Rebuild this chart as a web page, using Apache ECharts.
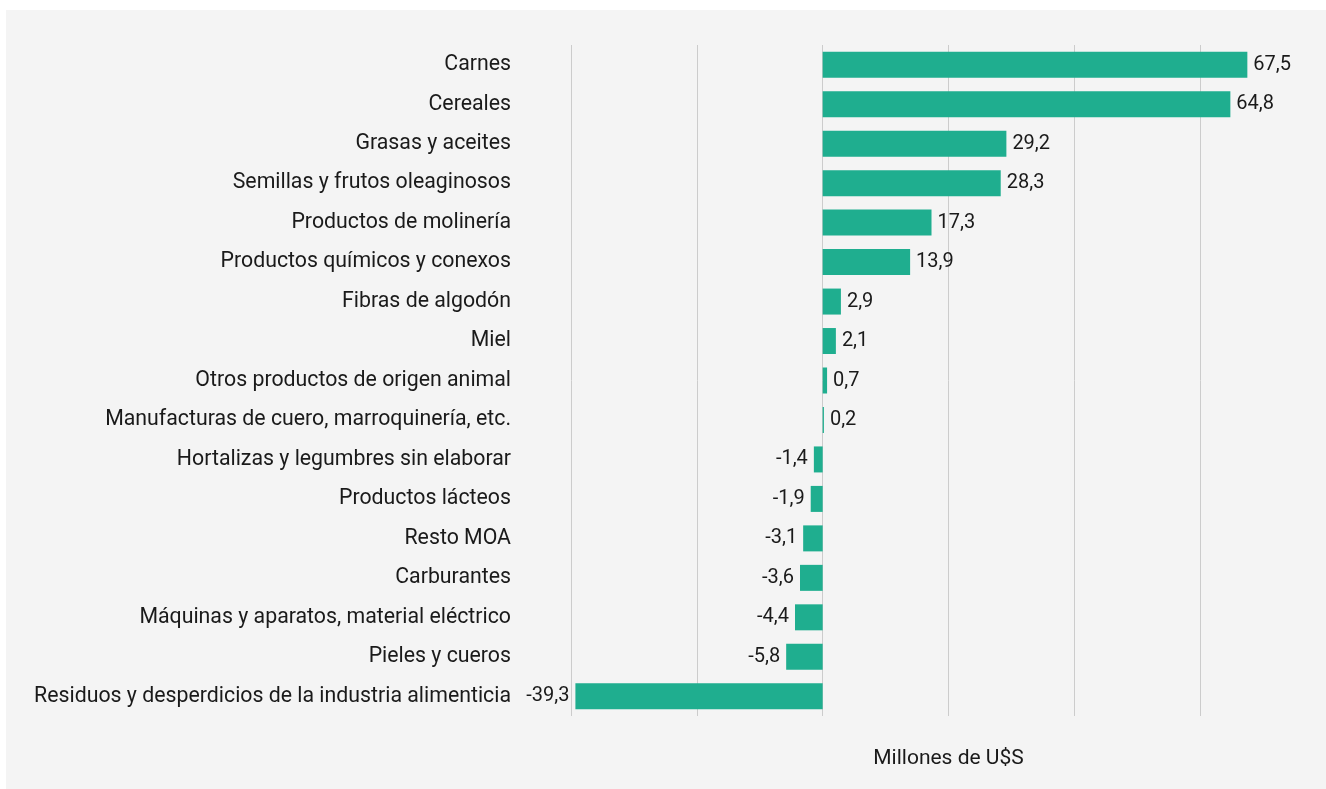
<!DOCTYPE html>
<html><head><meta charset="utf-8">
<script src="https://cdn.jsdelivr.net/npm/echarts@6/dist/echarts.min.js"></script>
<style>html,body{margin:0;padding:0;background:#fff;}#c{width:1326px;height:789px;}</style>
</head><body><div id="c"></div>
<script>
const categories = ["Carnes","Cereales","Grasas y aceites","Semillas y frutos oleaginosos","Productos de molinería","Productos químicos y conexos","Fibras de algodón","Miel","Otros productos de origen animal","Manufacturas de cuero, marroquinería, etc.","Hortalizas y legumbres sin elaborar","Productos lácteos","Resto MOA","Carburantes","Máquinas y aparatos, material eléctrico","Pieles y cueros","Residuos y desperdicios de la industria alimenticia"];
const values = [67.5,64.8,29.2,28.3,17.3,13.9,2.9,2.1,0.7,0.2,-1.4,-1.9,-3.1,-3.6,-4.4,-5.8,-39.3];
const axisName = "Millones de U$S";

const chart = echarts.init(document.getElementById('c'));
chart.setOption({
  backgroundColor: '#ffffff',
  graphic: [{type:'rect', z:-10, shape:{x:6,y:10,width:1320,height:779}, style:{fill:'#f4f4f4'}}],
  textStyle: {fontFamily: 'Roboto'},
  grid: {left: 571, right: 0, top: 45, height: 671},
  xAxis: {
    type: 'value', min: -40, max: 80, interval: 20,
    axisLabel: {show: false}, axisLine: {show: false}, axisTick: {show: false},
    splitLine: {show: true, lineStyle: {color: '#cccccc', width: 1}},
    name: axisName, nameLocation: 'middle', nameGap: 32,
    nameTextStyle: {fontSize: 21, color: '#1a1a1a', fontFamily: 'Roboto'}
  },
  yAxis: {
    type: 'category', data: categories, inverse: true,
    axisLine: {show: false}, axisTick: {show: false},
    axisLabel: {margin: 60, fontSize: 21.3, color: '#1a1a1a', fontFamily: 'Roboto'}
  },
  series: [{
    type: 'bar', data: values.map(v => ({value: v, label: {position: v < 0 ? 'left' : 'right'}})),
    barWidth: 26,
    itemStyle: {color: '#1fae8f'},
    label: {show: true, distance: 6, fontSize: 20, color: '#1a1a1a', fontFamily: 'Roboto',
      formatter: p => String(p.value).replace('.', ',')}
  }]
});
</script></body></html>
